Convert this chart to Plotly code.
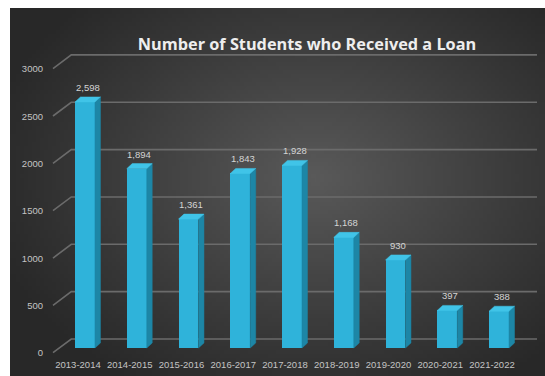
import base64
import struct
import zlib

import plotly.graph_objects as go

# ---------------- data ----------------
categories = ["2013-2014", "2014-2015", "2015-2016", "2016-2017", "2017-2018",
              "2018-2019", "2019-2020", "2020-2021", "2021-2022"]
loans = [2598, 1894, 1361, 1843, 1928, 1168, 930, 397, 388]
y_ticks = [0, 500, 1000, 1500, 2000, 2500, 3000]
title_text = "Number of Students who Received a Loan"

# ---------------- styling / geometry ----------------
W, H = 545, 376
FRONT = "#2fb3da"
SIDE = "#1d86a6"
TOP = "#40c4e8"
GRID = "#6b6b6b"
BAR_W = 0.386        # category units
DX = 0.106           # depth (category units)
DY = 53              # depth (value units)
BACK = 95            # back-wall offset of gridlines (value units)

idx = list(range(len(categories)))


# ---------------- background (radial gradient as a small PNG) ----------------
def gradient_png(w, h):
    rows = []
    cx, cy = 0.57, 0.46
    for j in range(h):
        row = bytearray([0])
        for i in range(w):
            x = i / (w - 1)
            y = j / (h - 1)
            r = (((x - cx) / 0.64) ** 2 + ((y - cy) / 0.68) ** 2) ** 0.5
            t = max(0.0, 1.0 - r)
            g = int(40 + 50 * t ** 1.05)
            row.append(g)
        rows.append(bytes(row))
    raw = b"".join(rows)

    def chunk(tag, data):
        c = struct.pack(">I", len(data)) + tag + data
        return c + struct.pack(">I", zlib.crc32(tag + data) & 0xffffffff)

    png = b"\x89PNG\r\n\x1a\n"
    png += chunk(b"IHDR", struct.pack(">IIBBBBB", w, h, 8, 0, 0, 0, 0))
    png += chunk(b"IDAT", zlib.compress(raw, 9))
    png += chunk(b"IEND", b"")
    return "data:image/png;base64," + base64.b64encode(png).decode()


bg_src = gradient_png(134, 92)

# plot area in pixels
L, R, T, B = 50, 5, 50, 22
pw, ph = W - L - R, H - T - B

fig = go.Figure()

# front faces
fig.add_trace(go.Bar(
    x=idx, y=loans, width=BAR_W,
    marker=dict(color=FRONT, line=dict(width=0)),
    hoverinfo="skip", showlegend=False,
))

# side faces & top faces
sx, sy, tx, ty = [], [], [], []
for i, v in zip(idx, loans):
    xl, xr = i - BAR_W / 2, i + BAR_W / 2
    sx += [xr, xr + DX, xr + DX, xr, xr, None]
    sy += [0, DY, v + DY, v, 0, None]
    tx += [xl, xl + DX, xr + DX, xr, xl, None]
    ty += [v, v + DY, v + DY, v, v, None]

fig.add_trace(go.Scatter(x=sx, y=sy, mode="lines", fill="toself",
                         fillcolor=SIDE, line=dict(color=SIDE, width=0.5),
                         hoverinfo="skip", showlegend=False))
fig.add_trace(go.Scatter(x=tx, y=ty, mode="lines", fill="toself",
                         fillcolor=TOP, line=dict(color=TOP, width=0.5),
                         hoverinfo="skip", showlegend=False))

# gridlines (perspective back wall)
x_front, x_back, x_end = -0.618, -0.265, 8.734
for v in y_ticks:
    fig.add_shape(type="path", xref="x", yref="y", layer="below",
                  path=f"M {x_front},{v - 50} L {x_back},{v + BACK} L {x_end},{v + BACK}",
                  line=dict(color=GRID, width=1.6))

# value labels
for i, v in zip(idx, loans):
    fig.add_annotation(x=i + DX / 2, y=v + DY, text=f"{v:,}", showarrow=False,
                       yanchor="bottom", yshift=2,
                       font=dict(family="Liberation Sans", size=9.5, color="#d4d4d4"))

fig.add_layout_image(dict(source=bg_src, xref="paper", yref="paper",
                          x=(10 - L) / pw, y=(H - B - 8) / ph,
                          sizex=(W - 10) / pw, sizey=(H - 8) / ph,
                          xanchor="left", yanchor="top", sizing="stretch",
                          layer="below"))

fig.update_layout(
    width=W, height=H,
    margin=dict(l=L, r=R, t=T, b=B, pad=0),
    paper_bgcolor="white",
    plot_bgcolor="rgba(0,0,0,0)",
    title=dict(text=f"<b>{title_text}</b>", x=307 / W, xanchor="center",
               y=1 - 44 / H, yanchor="middle",
               font=dict(family="Open Sans", size=16.3, color="#eeeeee")),
    xaxis=dict(range=[-0.676, 8.792], tickvals=idx, ticktext=categories,
               showgrid=False, zeroline=False, showline=False, ticks="",
               ticklabelshift=-7, ticklabelstandoff=3,
               tickfont=dict(family="Liberation Sans", size=9.5, color="#c4c4c4")),
    yaxis=dict(range=[-63.4, 3146.8], tickvals=y_ticks,
               ticktext=[str(t) for t in y_ticks],
               showgrid=False, zeroline=False, showline=False, ticks="",
               ticklabelshift=5, ticklabelstandoff=6,
               tickfont=dict(family="Liberation Sans", size=9.5, color="#c4c4c4")),
    bargap=0,
)

fig.write_html("out.html")
